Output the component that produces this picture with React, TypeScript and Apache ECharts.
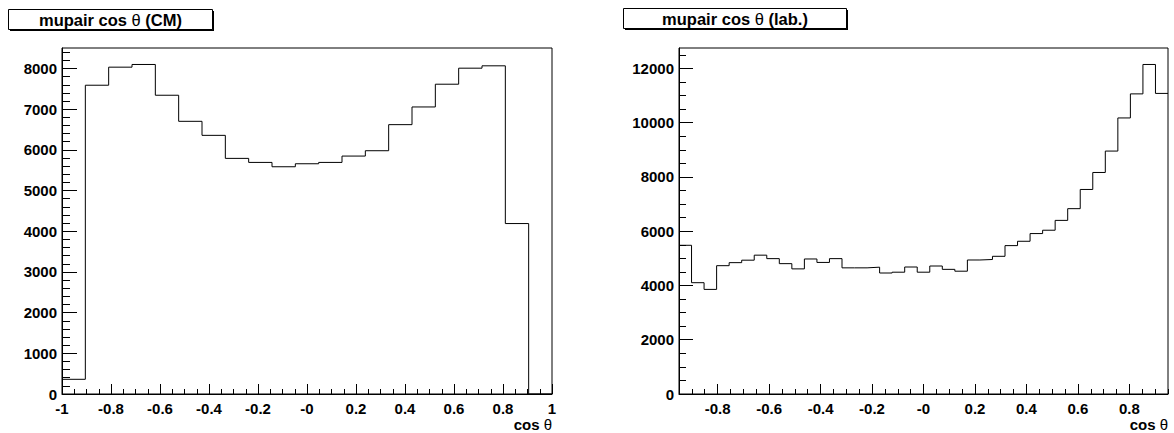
import React, { useEffect, useRef } from "react";
import * as echarts from "echarts";

// ---- data ----
const LEFT_RANGE = [-1, 1];
const LEFT_COUNTS = [
  361, 7589, 8033, 8099, 7343, 6702, 6357, 5791, 5692, 5585, 5659,
  5692, 5848, 5979, 6620, 7055, 7614, 8008, 8066, 4189, 0,
];
const RIGHT_RANGE = [-0.95, 0.95];
const RIGHT_COUNTS = [
  5482, 4103, 3856, 4730, 4842, 4933, 5118, 4990, 4805, 4612, 4977,
  4850, 4990, 4650, 4650, 4675, 4460, 4490, 4681, 4490, 4718, 4595,
  4527, 4940, 4958, 5076, 5470, 5630, 5914, 6037, 6400, 6832, 7540,
  8166, 8955, 10176, 11063, 12147, 11080,
];

const LEFT_X_TICKS = [-1, -0.8, -0.6, -0.4, -0.2, 0, 0.2, 0.4, 0.6, 0.8, 1];
const LEFT_X_LABELS = ["-1", "-0.8", "-0.6", "-0.4", "-0.2", "-0", "0.2", "0.4", "0.6", "0.8", "1"];
const RIGHT_X_TICKS = [-0.8, -0.6, -0.4, -0.2, 0, 0.2, 0.4, 0.6, 0.8];
const RIGHT_X_LABELS = ["-0.8", "-0.6", "-0.4", "-0.2", "-0", "0.2", "0.4", "0.6", "0.8"];
const LEFT_Y_TICKS = [0, 1000, 2000, 3000, 4000, 5000, 6000, 7000, 8000];
const LEFT_Y_LABELS = ["0", "1000", "2000", "3000", "4000", "5000", "6000", "7000", "8000"];
const RIGHT_Y_TICKS = [0, 2000, 4000, 6000, 8000, 10000, 12000];
const RIGHT_Y_LABELS = ["0", "2000", "4000", "6000", "8000", "10000", "12000"];

const LEFT_TITLE = "mupair cos ";
const LEFT_TITLE_SUFFIX = " (CM)";
const RIGHT_TITLE = "mupair cos ";
const RIGHT_TITLE_SUFFIX = " (lab.)";
const X_TITLE = "cos ";
const THETA = "θ";

// ---- helpers ----
function stepData(range: number[], counts: number[]) {
  const n = counts.length;
  const w = (range[1] - range[0]) / n;
  const pts: number[][] = [];
  for (let i = 0; i < n; i++) pts.push([range[0] + i * w, counts[i]]);
  pts.push([range[1], counts[n - 1]]);
  return pts;
}
function minorValues(lo: number, hi: number, step: number) {
  const out: number[] = [];
  const start = Math.ceil(lo / step - 1e-9);
  const end = Math.floor(hi / step + 1e-9);
  for (let k = start; k <= end; k++) out.push(Math.round(k * step * 1e6) / 1e6);
  return out;
}
function labelFor(ticks: number[], labels: string[]) {
  return (v: number) => {
    for (let i = 0; i < ticks.length; i++) if (Math.abs(ticks[i] - v) < 1e-6) return labels[i];
    return "";
  };
}

const FONT = "'Liberation Sans', Arial, Helvetica, sans-serif";
const LABEL_STYLE = { color: "#000", fontFamily: FONT, fontWeight: "bold" as const, fontSize: 15 };

export default function App() {
  const ref = useRef<HTMLDivElement>(null);
  useEffect(() => {
    if (!ref.current) return;
    const chart = echarts.init(ref.current, null, { renderer: "svg" });
    const leftMax = Math.max(...LEFT_COUNTS) * 1.05;
    const rightMax = Math.max(...RIGHT_COUNTS) * 1.05;

    const grids = [
      { left: 62, top: 48, width: 490, height: 346 },
      { left: 679, top: 48, width: 489, height: 346 },
    ].map((g) => ({ ...g, show: true, borderColor: "#000", borderWidth: 1, backgroundColor: "transparent" }));

    const majorX = (gi: number, range: number[], ticks: number[], labels: string[]) => ({
      type: "value",
      gridIndex: gi,
      position: "bottom",
      min: range[0],
      max: range[1],
      axisLine: { show: true, onZero: false, lineStyle: { color: "#000", width: 1 } },
      axisTick: { show: true, inside: true, length: 10, customValues: ticks, lineStyle: { color: "#000", width: 1 } },
      axisLabel: { show: true, customValues: ticks, formatter: labelFor(ticks, labels), margin: 7, ...LABEL_STYLE },
      splitLine: { show: false },
    });
    const minorX = (gi: number, range: number[]) => ({
      type: "value",
      gridIndex: gi,
      position: "bottom",
      min: range[0],
      max: range[1],
      axisLine: { show: false, onZero: false },
      axisTick: { show: true, inside: true, length: 5, customValues: minorValues(range[0], range[1], 0.05), lineStyle: { color: "#000", width: 1 } },
      axisLabel: { show: false },
      splitLine: { show: false },
    });
    const majorY = (gi: number, max: number, ticks: number[], labels: string[], len: number) => ({
      type: "value",
      gridIndex: gi,
      position: "left",
      min: 0,
      max,
      axisLine: { show: true, onZero: false, lineStyle: { color: "#000", width: 1 } },
      axisTick: { show: true, inside: true, length: len, customValues: ticks, lineStyle: { color: "#000", width: 1 } },
      axisLabel: { show: true, customValues: ticks, formatter: labelFor(ticks, labels), margin: 5, ...LABEL_STYLE },
      splitLine: { show: false },
    });
    const minorY = (gi: number, max: number, step: number, len: number) => ({
      type: "value",
      gridIndex: gi,
      position: "left",
      min: 0,
      max,
      axisLine: { show: false, onZero: false },
      axisTick: { show: true, inside: true, length: len, customValues: minorValues(0, max, step), lineStyle: { color: "#000", width: 1 } },
      axisLabel: { show: false },
      splitLine: { show: false },
    });

    const titleRich = {
      b: { fontFamily: FONT, fontWeight: "bold", fontSize: 16.5, fill: "#000", color: "#000" },
      n: { fontFamily: FONT, fontWeight: "normal", fontSize: 16.5, fill: "#000", color: "#000" },
    };
    const axisRich = {
      b: { fontFamily: FONT, fontWeight: "bold", fontSize: 15, fill: "#000", color: "#000" },
      n: { fontFamily: FONT, fontWeight: "normal", fontSize: 15, fill: "#000", color: "#000" },
    };
    const titleBox = (x: number, y: number, w: number, h: number, main: string, suffix: string) => [
      { type: "rect", shape: { x: x + 1.5, y: y + 1.5, width: w, height: h }, style: { fill: "#000" }, z: 10 },
      { type: "rect", shape: { x, y, width: w, height: h }, style: { fill: "#fff", stroke: "#000", lineWidth: 1 }, z: 11 },
      {
        type: "text",
        x: x + w / 2,
        y: y + h / 2 + 0.5,
        z: 12,
        style: {
          text: `{b|${main}}{n|${THETA}}{b|${suffix}}`,
          rich: titleRich,
          textAlign: "center",
          textVerticalAlign: "middle",
          align: "center",
          verticalAlign: "middle",
        },
      },
    ];
    const xTitle = (x: number) => ({
      type: "text",
      x,
      y: 424,
      z: 12,
      style: {
        text: `{b|${X_TITLE}}{n|${THETA}}`,
        rich: axisRich,
        textAlign: "right",
        textVerticalAlign: "middle",
        align: "right",
        verticalAlign: "middle",
      },
    });

    chart.setOption({
      animation: false,
      backgroundColor: "#fff",
      grid: grids,
      xAxis: [
        majorX(0, LEFT_RANGE, LEFT_X_TICKS, LEFT_X_LABELS),
        minorX(0, LEFT_RANGE),
        majorX(1, RIGHT_RANGE, RIGHT_X_TICKS, RIGHT_X_LABELS),
        minorX(1, RIGHT_RANGE),
      ],
      yAxis: [
        majorY(0, leftMax, LEFT_Y_TICKS, LEFT_Y_LABELS, 15),
        minorY(0, leftMax, 200, 8),
        majorY(1, rightMax, RIGHT_Y_TICKS, RIGHT_Y_LABELS, 14),
        minorY(1, rightMax, 500, 7),
      ],
      series: [
        {
          type: "line",
          xAxisIndex: 0,
          yAxisIndex: 0,
          step: "end",
          symbol: "none",
          clip: true,
          data: stepData(LEFT_RANGE, LEFT_COUNTS),
          lineStyle: { color: "#000", width: 1 },
        },
        {
          type: "line",
          xAxisIndex: 2,
          yAxisIndex: 2,
          step: "end",
          symbol: "none",
          clip: true,
          data: stepData(RIGHT_RANGE, RIGHT_COUNTS),
          lineStyle: { color: "#000", width: 1 },
        },
      ],
      graphic: [
        ...titleBox(8.5, 9.5, 204, 20, LEFT_TITLE, LEFT_TITLE_SUFFIX),
        ...titleBox(623.5, 8.5, 223, 20, RIGHT_TITLE, RIGHT_TITLE_SUFFIX),
        xTitle(552),
        xTitle(1168),
      ],
    });
    return () => chart.dispose();
  }, []);
  return (
    <div
      ref={ref}
      style={{ position: "absolute", left: 0, top: 0, width: 1174, height: 433, background: "#fff" }}
    />
  );
}
